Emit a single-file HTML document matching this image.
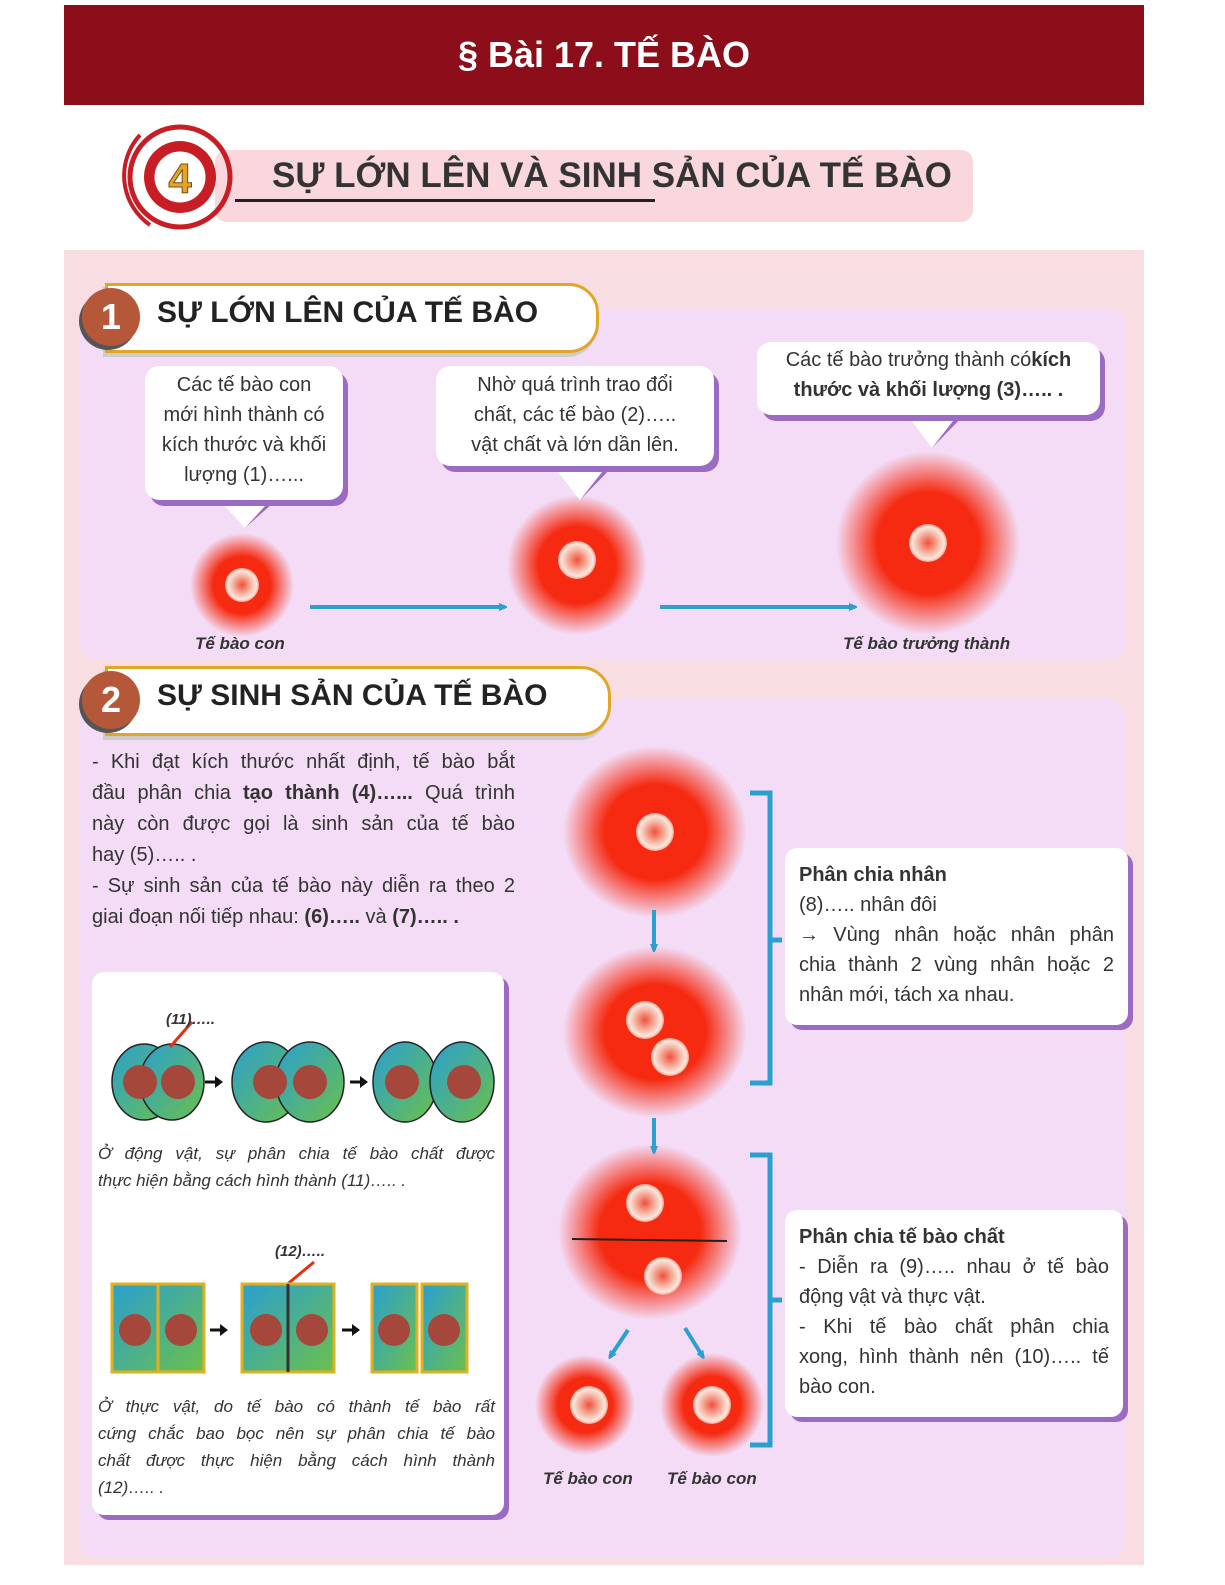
<!DOCTYPE html>
<html><head><meta charset="utf-8"><style>
body{margin:0;width:1225px;height:1585px;background:#fff;position:relative;font-family:"Liberation Sans",sans-serif;color:#333;overflow:hidden}
.a{position:absolute}
.bub{position:absolute;background:#fff;border-radius:14px;box-shadow:5px 6px 0 #9b6bc4;text-align:center;font-size:20px;line-height:30px;color:#333}
.box{position:absolute;background:#fff;border-radius:12px;box-shadow:5px 5px 0 #9b6bc4;font-size:20px;line-height:30px;color:#333}
.lbl{position:absolute;font-style:italic;font-weight:bold;font-size:17px;color:#333}
.pill{position:absolute;background:#fff;border:3px solid #e0a726;border-radius:0 30px 30px 0;box-shadow:-2px 4px 0 #ccc}
.num{position:absolute;width:58px;height:58px;border-radius:50%;background:#b5583a;color:#fff;font-weight:bold;font-size:36px;text-align:center;line-height:58px;box-shadow:-3px 4px 0 #555}
.ph{position:absolute;font-weight:bold;font-size:30px;color:#222}
.j{text-align:justify;text-align-last:justify;white-space:nowrap}
.l{text-align:left;white-space:nowrap}
</style></head><body>
<div class="a" style="left:64px;top:5px;width:1080px;height:100px;background:#8b0e1a"></div>
<div class="a" style="left:64px;top:34px;width:1080px;text-align:center;color:#fff;font-weight:bold;font-size:36px">§ Bài 17. TẾ BÀO</div>
<div class="a" style="left:215px;top:150px;width:758px;height:72px;background:#f9d7dc;border-radius:12px"></div>
<div class="a" style="left:272px;top:156px;font-weight:bold;font-size:35px;color:#333">SỰ LỚN LÊN VÀ SINH SẢN CỦA TẾ BÀO</div>
<div class="a" style="left:235px;top:199px;width:420px;height:3px;background:#222"></div>
<div class="a" style="left:64px;top:250px;width:1080px;height:1315px;background:#f8dde3"></div>
<div class="a" style="left:80px;top:308px;width:1045px;height:352px;background:#f4dcf6;border-radius:16px"></div>
<div class="a" style="left:80px;top:700px;width:1045px;height:858px;background:#f4dcf6;border-radius:16px"></div>
<svg class="a" style="left:0;top:0" width="1225" height="1585">
<defs>
<radialGradient id="c"><stop offset="0" stop-color="#f52a10"/><stop offset=".55" stop-color="#f52a10"/><stop offset="1" stop-color="#f52a10" stop-opacity="0"/></radialGradient>
<radialGradient id="n"><stop offset="0" stop-color="#f0503a"/><stop offset=".6" stop-color="#f6c0b0"/><stop offset=".85" stop-color="#fde6dc"/><stop offset="1" stop-color="#f3a090"/></radialGradient>
<marker id="ar" markerWidth="8" markerHeight="8" refX="6" refY="4" orient="auto" markerUnits="userSpaceOnUse"><path d="M0,0L10,4L0,8z" fill="#2a9fd0"/></marker>
</defs>
<circle cx="180" cy="177" r="50" fill="none" stroke="#c81d25" stroke-width="5"/>
<circle cx="180" cy="177" r="36" fill="#c81d25"/>
<circle cx="180" cy="177" r="27" fill="#fff" stroke="#c81d25" stroke-width="3"/>
<text x="180" y="193" text-anchor="middle" font-family="Liberation Sans" font-weight="bold" font-size="42" fill="#e2a52a" stroke="#7a4a10" stroke-width="1">4</text>
<path d="M140,135 A60,60 0 0 0 150,225" fill="none" stroke="#c81d25" stroke-width="4"/>
<circle cx="242" cy="585" r="52" fill="url(#c)"/>
<circle cx="577" cy="565" r="70" fill="url(#c)"/>
<circle cx="928" cy="543" r="92" fill="url(#c)"/>
<circle cx="242" cy="585" r="17" fill="url(#n)"/>
<circle cx="577" cy="560" r="19" fill="url(#n)"/>
<circle cx="928" cy="543" r="19" fill="url(#n)"/>
<line x1="310" y1="607" x2="505" y2="607" stroke="#2a9fd0" stroke-width="4" marker-end="url(#ar)"/>
<line x1="660" y1="607" x2="855" y2="607" stroke="#2a9fd0" stroke-width="4" marker-end="url(#ar)"/>
<ellipse cx="655" cy="832" rx="92" ry="86" fill="url(#c)"/>
<ellipse cx="655" cy="1032" rx="92" ry="86" fill="url(#c)"/>
<ellipse cx="650" cy="1232" rx="92" ry="88" fill="url(#c)"/>
<circle cx="585" cy="1405" r="50" fill="url(#c)"/>
<circle cx="712" cy="1405" r="52" fill="url(#c)"/>
<circle cx="655" cy="832" r="19" fill="url(#n)"/>
<circle cx="645" cy="1020" r="19" fill="url(#n)"/>
<circle cx="670" cy="1057" r="19" fill="url(#n)"/>
<circle cx="645" cy="1203" r="19" fill="url(#n)"/>
<circle cx="663" cy="1276" r="19" fill="url(#n)"/>
<circle cx="589" cy="1405" r="19" fill="url(#n)"/>
<circle cx="712" cy="1405" r="19" fill="url(#n)"/>
<line x1="572" y1="1239" x2="727" y2="1241" stroke="#222" stroke-width="2"/>
<line x1="654" y1="910" x2="654" y2="950" stroke="#2a9fd0" stroke-width="4" marker-end="url(#ar)"/>
<line x1="654" y1="1118" x2="654" y2="1152" stroke="#2a9fd0" stroke-width="4" marker-end="url(#ar)"/>
<line x1="628" y1="1330" x2="610" y2="1357" stroke="#2a9fd0" stroke-width="4" marker-end="url(#ar)"/>
<line x1="685" y1="1328" x2="703" y2="1357" stroke="#2a9fd0" stroke-width="4" marker-end="url(#ar)"/>
<path d="M750,793 H770 V1083 H750 M770,940 H782" fill="none" stroke="#2a9fd0" stroke-width="5"/>
<path d="M750,1155 H770 V1445 H750 M770,1300 H782" fill="none" stroke="#2a9fd0" stroke-width="5"/>
</svg>
<div class="pill" style="left:105px;top:283px;width:488px;height:64px"></div>
<div class="num" style="left:82px;top:288px">1</div>
<div class="ph" style="left:157px;top:296px">SỰ LỚN LÊN CỦA TẾ BÀO</div>
<div class="pill" style="left:105px;top:666px;width:500px;height:64px"></div>
<div class="num" style="left:82px;top:671px">2</div>
<div class="ph" style="left:157px;top:679px">SỰ SINH SẢN CỦA TẾ BÀO</div>
<svg class="a" style="left:0;top:0" width="1225" height="1585">
<path d="M215,495 L245,528 L275,495Z" fill="#fff"/><path d="M245,528 L275,495 L282,495Z" fill="#9b6bc4"/>
<path d="M550,462 L580,500 L610,462Z" fill="#fff"/><path d="M580,500 L610,462 L617,462Z" fill="#9b6bc4"/>
<path d="M905,412 L932,448 L960,412Z" fill="#fff"/><path d="M932,448 L960,412 L967,412Z" fill="#9b6bc4"/>
</svg>
<div class="bub" style="left:145px;top:366px;width:198px;height:130px;padding-top:4px">Các tế bào con<br>mới hình thành có<br>kích thước và khối<br>lượng (1)…...</div>
<div class="bub" style="left:436px;top:366px;width:278px;height:96px;padding-top:4px">Nhờ quá trình trao đổi<br>chất, các tế bào (2)…..<br>vật chất và lớn dần lên.</div>
<div class="bub" style="left:757px;top:342px;width:343px;height:70px;padding-top:3px">Các tế bào trưởng thành có<b>kích<br>thước và khối lượng (3)….. .</b></div>
<div class="lbl" style="left:195px;top:634px">Tế bào con</div>
<div class="lbl" style="left:843px;top:634px">Tế bào trưởng thành</div>
<div class="a" style="left:92px;top:747px;width:423px;font-size:20px;line-height:31px">
<div class="j">- Khi đạt kích thước nhất định, tế bào bắt</div>
<div class="j">đầu phân chia <b>tạo thành (4)…...</b> Quá trình</div>
<div class="j">này còn được gọi là sinh sản của tế bào</div>
<div class="l">hay (5)….. .</div>
<div class="j">- Sự sinh sản của tế bào này diễn ra theo 2</div>
<div class="l">giai đoạn nối tiếp nhau: <b>(6)….. </b>và <b>(7)….. .</b></div>
</div>
<div class="box" style="left:785px;top:848px;width:315px;height:160px;padding:12px 14px 5px 14px">
<div class="l"><b>Phân chia nhân</b></div>
<div class="l">(8)….. nhân đôi</div>
<div class="j">→ Vùng nhân hoặc nhân phân</div>
<div class="j">chia thành 2 vùng nhân hoặc 2</div>
<div class="l">nhân mới, tách xa nhau.</div>
</div>
<div class="box" style="left:785px;top:1210px;width:310px;height:190px;padding:12px 14px 5px 14px">
<div class="l"><b>Phân chia tế bào chất</b></div>
<div class="j">- Diễn ra (9)….. nhau ở tế bào</div>
<div class="l">động vật và thực vật.</div>
<div class="j">- Khi tế bào chất phân chia</div>
<div class="j">xong, hình thành nên (10)….. tế</div>
<div class="l">bào con.</div>
</div>
<div class="lbl" style="left:543px;top:1469px">Tế bào con</div>
<div class="lbl" style="left:667px;top:1469px">Tế bào con</div>
<div class="box" style="left:92px;top:972px;width:412px;height:543px"></div>
<svg class="a" style="left:92px;top:972px" width="412" height="543">
<defs><linearGradient id="g" x1="0" y1="0" x2="1" y2="1"><stop offset="0" stop-color="#2a9fd0"/><stop offset="1" stop-color="#6cc04a"/></linearGradient></defs>
<g stroke="#222" stroke-width="1.5">
<ellipse cx="52" cy="110" rx="32" ry="38" fill="url(#g)"/><ellipse cx="80" cy="110" rx="32" ry="38" fill="url(#g)"/>
<ellipse cx="174" cy="110" rx="34" ry="40" fill="url(#g)"/><ellipse cx="218" cy="110" rx="34" ry="40" fill="url(#g)"/>
<ellipse cx="313" cy="110" rx="32" ry="40" fill="url(#g)"/><ellipse cx="370" cy="110" rx="32" ry="40" fill="url(#g)"/>
</g>
<g fill="#a5473a"><circle cx="48" cy="110" r="17"/><circle cx="86" cy="110" r="17"/><circle cx="178" cy="110" r="17"/><circle cx="218" cy="110" r="17"/><circle cx="310" cy="110" r="17"/><circle cx="372" cy="110" r="17"/></g>
<line x1="78" y1="75" x2="100" y2="50" stroke="#e53010" stroke-width="3"/>
<text x="74" y="52" font-family="Liberation Sans" font-style="italic" font-weight="bold" font-size="15" fill="#333">(11)…..</text>
<path d="M113,110h10M258,110h10" stroke="#111" stroke-width="3"/><path d="M123,104l8,6l-8,6zM268,104l8,6l-8,6z" fill="#111"/>
<text x="183" y="284" font-family="Liberation Sans" font-style="italic" font-weight="bold" font-size="15" fill="#333">(12)…..</text>
<line x1="192" y1="315" x2="222" y2="290" stroke="#e53010" stroke-width="3"/>
<g fill="url(#g)" stroke="#e0b020" stroke-width="3">
<rect x="20" y="312" width="92" height="88"/><rect x="150" y="312" width="92" height="88"/><rect x="280" y="312" width="45" height="88"/><rect x="330" y="312" width="45" height="88"/>
</g>
<line x1="66" y1="312" x2="66" y2="400" stroke="#e0b020" stroke-width="3"/>
<line x1="196" y1="312" x2="196" y2="400" stroke="#333" stroke-width="3"/>
<g fill="#a5473a"><circle cx="43" cy="358" r="16"/><circle cx="89" cy="358" r="16"/><circle cx="174" cy="358" r="16"/><circle cx="220" cy="358" r="16"/><circle cx="302" cy="358" r="16"/><circle cx="352" cy="358" r="16"/></g>
<path d="M118,358h10M250,358h10" stroke="#111" stroke-width="3"/><path d="M128,352l8,6l-8,6zM260,352l8,6l-8,6z" fill="#111"/>
</svg>
<div class="a" style="left:98px;top:1140px;width:397px;font-size:17px;line-height:27px;font-style:italic;color:#333">
<div class="j">Ở động vật, sự phân chia tế bào chất được</div>
<div class="l">thực hiện bằng cách hình thành (11)….. .</div>
</div>
<div class="a" style="left:98px;top:1393px;width:397px;font-size:17px;line-height:27px;font-style:italic;color:#333">
<div class="j">Ở thực vật, do tế bào có thành tế bào rất</div>
<div class="j">cứng chắc bao bọc nên sự phân chia tế bào</div>
<div class="j">chất được thực hiện bằng cách hình thành</div>
<div class="l">(12)….. .</div>
</div>
</body></html>
